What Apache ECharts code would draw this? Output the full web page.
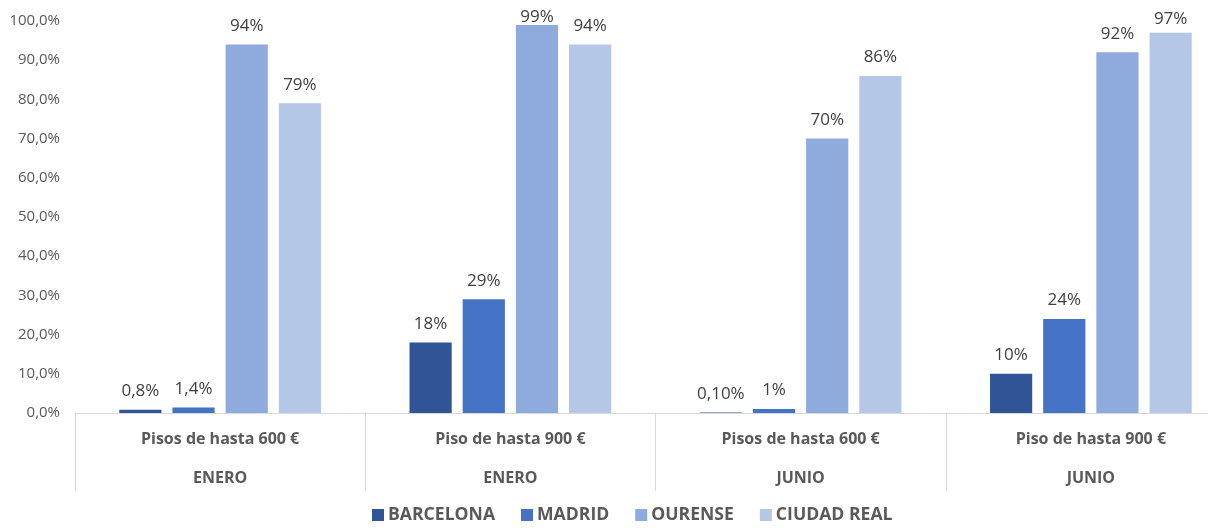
<!DOCTYPE html>
<html><head><meta charset="utf-8">
<script src="https://cdn.jsdelivr.net/npm/echarts@6/dist/echarts.min.js"></script>
<style>html,body{margin:0;padding:0;background:#fff}#c{width:1208px;height:528px}</style>
</head><body><div id="c"></div>
<script>
const subCats = ['Pisos de hasta 600 €','Piso de hasta 900 €','Pisos de hasta 600 €','Piso de hasta 900 €'];
const months = ['ENERO','ENERO','JUNIO','JUNIO'];
const seriesNames = ['BARCELONA','MADRID','OURENSE','CIUDAD REAL'];
const barcelona = [0.8, 18, 0.1, 10];
const madrid = [1.4, 29, 1, 24];
const ourense = [94, 99, 70, 92];
const ciudadReal = [79, 94, 86, 97];
const barcelonaLabels = ['0,8%','18%','0,10%','10%'];
const madridLabels = ['1,4%','29%','1%','24%'];
const ourenseLabels = ['94%','99%','70%','92%'];
const ciudadRealLabels = ['79%','94%','86%','97%'];
const colors = ['#2F5597','#4472C4','#8FAADC','#B4C7E7'];

const values = [barcelona, madrid, ourense, ciudadReal];
const labels = [barcelonaLabels, madridLabels, ourenseLabels, ciudadRealLabels];
const cats = subCats.map((s,i)=>s+'\n'+months[i]);

const chart = echarts.init(document.getElementById('c'));
chart.setOption({
  animation:false,
  color: colors,
  textStyle:{fontFamily:'Open Sans'},
  legend:{
    bottom:-1, left:367, itemWidth:12, itemHeight:12, itemGap:26,
    icon:'rect',
    textStyle:{color:'#595959', fontSize:17.6, fontWeight:'bold', fontFamily:'Open Sans', padding:[0,0,0,-1]},
    data: seriesNames
  },
  grid:{left:75, width:1161, top:21, bottom:115, containLabel:false, outerBoundsMode:'none'},
  xAxis:{
    type:'category', data:cats,
    axisLine:{lineStyle:{color:'#d9d9d9'}},
    axisTick:{show:true, length:78, lineStyle:{color:'#d9d9d9'}},
    axisLabel:{
      margin:7, color:'#595959', interval:0,
      formatter:(v)=>{const p=v.split('\n'); return '{a|'+p[0]+'}\n{b|'+p[1]+'}';},
      rich:{
        a:{fontSize:16, fontWeight:'bold', color:'#595959', lineHeight:39, fontFamily:'Open Sans'},
        b:{fontSize:16, fontWeight:'bold', color:'#595959', lineHeight:39, fontFamily:'Open Sans'}
      }
    }
  },
  yAxis:{
    type:'value', min:0, max:100, interval:10,
    axisLine:{show:false}, axisTick:{show:false}, splitLine:{show:false},
    axisLabel:{margin:15, color:'#595959', fontSize:15, fontFamily:'Open Sans',
      formatter:(v)=>v.toFixed(1).replace('.',',')+'%'}
  },
  series: seriesNames.map((n,si)=>({
    name:n, type:'bar',
    data:values[si].map(v=> v>98 ? {value:v, label:{distance:-1}} : (v>95 ? {value:v, label:{distance:5}} : v)),
    barGap:'26%', barCategoryGap:'30.5%',
    label:{show:true, position:'top', distance:10, color:'#404040', fontSize:17, fontFamily:'Open Sans',
      formatter:(p)=>labels[si][p.dataIndex]}
  }))
});
</script></body></html>
